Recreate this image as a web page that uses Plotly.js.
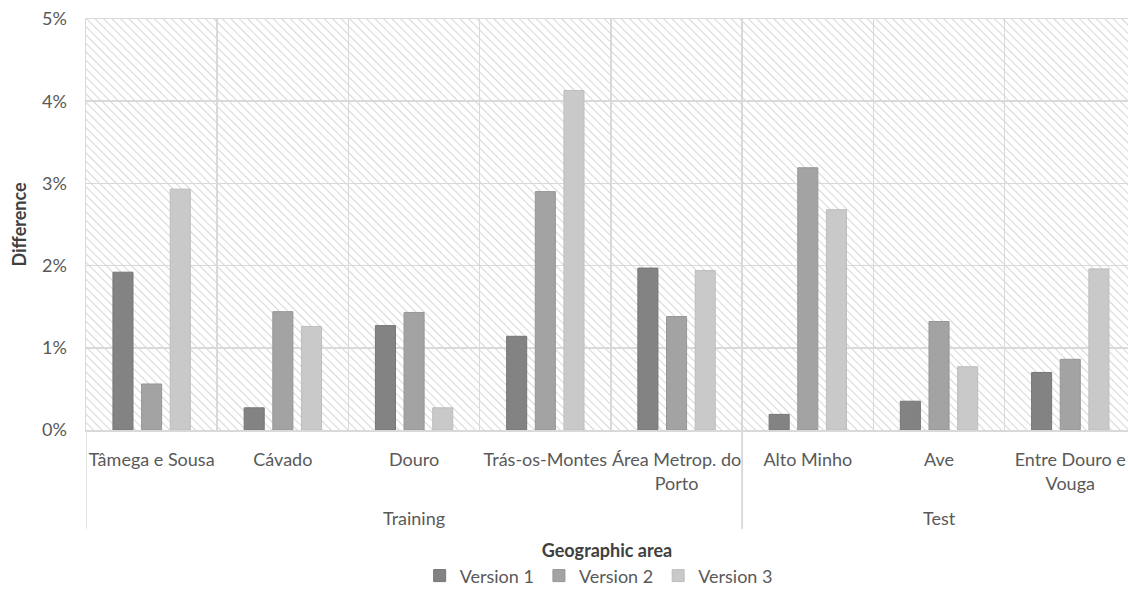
<!DOCTYPE html>
<html>
<head>
<meta charset="utf-8">
<script src="https://cdn.plot.ly/plotly-3.0.1.min.js"></script>
<style>html,body{margin:0;padding:0;background:#fff;}#chart{width:1128px;height:595px;}</style>
</head>
<body>
<div id="chart"></div>
<script>
// ---- data ----
const groups = ["Training","Training","Training","Training","Training","Test","Test","Test"];
const areas = ["Tâmega e Sousa","Cávado","Douro","Trás-os-Montes","Área Metrop. do<br>Porto","Alto Minho","Ave","Entre Douro e<br>Vouga"];
const version1 = [1.92, 0.27, 1.27, 1.14, 1.97, 0.19, 0.35, 0.70];
const version2 = [0.56, 1.44, 1.43, 2.90, 1.38, 3.19, 1.32, 0.86];
const version3 = [2.93, 1.26, 0.27, 4.13, 1.94, 2.68, 0.77, 1.96];
const seriesNames = ["Version 1","Version 2","Version 3"];
const yTicks = [0,1,2,3,4,5];
const yTickText = ["0%","1%","2%","3%","4%","5%"];

// ---- styling ----
const colors = ["#838383","#a3a3a3","#c9c9c9"];
const edge = ["#767676","#969696","#bdbdbd"];
const font = "Lato, 'Open Sans', sans-serif";
const textColor = "#595959";
const titleColor = "#404040";
const gridColor = "#d9d9d9";

const M = {l:86, r:0, t:19, b:162};
const W = 1128 - M.l - M.r, H = 595 - M.t - M.b;
const svg = "<svg xmlns='http://www.w3.org/2000/svg' width='"+W+"' height='"+H+"'>"+
  "<defs><pattern id='p' width='6' height='6' patternUnits='userSpaceOnUse' patternTransform='rotate(-45)'>"+
  "<line x1='0' y1='0' x2='0' y2='6' stroke='#d8d8d8' stroke-width='2.2'/></pattern></defs>"+
  "<rect width='100%' height='100%' fill='url(#p)'/></svg>";
const hatch = "data:image/svg+xml;charset=utf-8," + encodeURIComponent(svg);

const vals = [version1, version2, version3];
const traces = vals.map((v,i)=>({
  type:"bar",
  name: seriesNames[i],
  x:areas,
  y:v,
  marker:{color:colors[i], line:{color:edge[i], width:1}},
  hoverinfo:"y+name"
}));

// group labels & dividers derived from the groups array
const annotations = [];
const shapes = [];
const uniq = [...new Set(groups)];
const divY = -0.24;
uniq.forEach(g=>{
  const idx = groups.map((v,i)=>v===g?i:-1).filter(i=>i>=0);
  const lo = Math.min(...idx), hi = Math.max(...idx);
  annotations.push({text:g, xref:"x", yref:"paper", x:(lo+hi)/2, y:-0.214,
    showarrow:false, yanchor:"middle", font:{size:18, color:textColor, family:font}});
  [lo-0.5, hi+0.5].forEach(b=>{
    shapes.push({type:"line", xref:"x", yref:"paper", x0:b, x1:b, y0:0, y1:divY,
      line:{color:gridColor, width:1.5}});
  });
});
// y axis title
annotations.push({text:"<b>Difference</b>", xref:"paper", yref:"paper", x:0, y:0.5,
  xshift:-68, textangle:-90, showarrow:false, xanchor:"center", yanchor:"middle",
  font:{size:18, color:titleColor, family:font}});

const layout = {
  width:1128, height:595,
  margin:M,
  paper_bgcolor:"#ffffff",
  plot_bgcolor:"rgba(0,0,0,0)",
  font:{family:font, size:18, color:textColor},
  barmode:"group",
  bargap:0.345,
  bargroupgap:0.3,
  showlegend:true,
  legend:{orientation:"h", x:0.492, xanchor:"center", y:-0.355, yanchor:"middle",
          font:{size:18, color:textColor}, traceorder:"normal"},
  xaxis:{
    type:"category",
    range:[-0.5, 7.44],
    tickson:"boundaries",
    tickangle:0,
    automargin:false,
    showgrid:true, gridcolor:gridColor, gridwidth:1.5,
    showline:true, linecolor:gridColor, linewidth:1.5, mirror:true,
    ticks:"",
    ticklabelstandoff:13,
    tickfont:{size:18, color:textColor},
    title:{text:"<b>Geographic area</b>", font:{size:18, color:titleColor}, standoff:52}
  },
  yaxis:{
    range:[0,5],
    tickvals:yTicks,
    ticktext:yTickText,
    automargin:false,
    showgrid:true, gridcolor:gridColor, gridwidth:1.5,
    showline:true, linecolor:gridColor, linewidth:1.5,
    zeroline:false,
    ticks:"",
    ticklabelstandoff:14,
    tickfont:{size:18, color:textColor}
  },
  annotations:annotations,
  shapes:shapes,
  images:[{source:hatch, xref:"paper", yref:"paper", x:0, y:1, sizex:1, sizey:1,
           xanchor:"left", yanchor:"top", sizing:"stretch", layer:"below"}]
};

Plotly.newPlot("chart", traces, layout, {displayModeBar:false, staticPlot:true});
</script>
</body>
</html>
